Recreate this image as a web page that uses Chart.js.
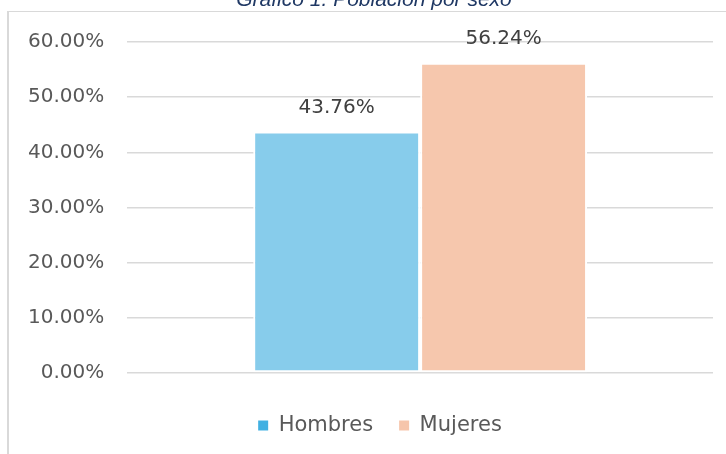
<!DOCTYPE html>
<html>
<head>
<meta charset="utf-8">
<script src="https://cdn.jsdelivr.net/npm/chart.js@4.4.1/dist/chart.umd.min.js"></script>
<style>
	html, body { margin: 0; padding: 0; width: 726px; height: 454px; overflow: hidden; background: #fff; }
	#frame { position: absolute; left: 7px; top: 11px; width: 760px; height: 460px; border-left: 2px solid #d9d9d9; border-top: 1px solid #d9d9d9; }
	#wrap { position: absolute; left: 8px; top: -13px; width: 744px; height: 467px; }
</style>
</head>
<body>
<div id="frame"></div>
<div id="wrap"><canvas id="chart"></canvas></div>
<script>
// ── Data ─────────────────────────────────────────────────────────────────────

const TITLE = 'Gráfico 1. Población por sexo'
const CATEGORIES = ['']
const SERIES_NAMES = ['Hombres', 'Mujeres']
const HOMBRES = [43.76]
const MUJERES = [56.24]
const Y_TICKS = [0, 10, 20, 30, 40, 50, 60]

const BAR_COLORS = ['#87cceb', '#f6c7ad']
const LEGEND_COLORS = ['#41b0e2', '#f6c5ab']

// ── Value labels above bars ─────────────────────────────────────────────────

const valueLabels = {
	id: 'valueLabels',
	afterDatasetsDraw(chart) {
		const c = chart.ctx
		c.save()
		c.font = '20px "DejaVu Sans"'
		c.fillStyle = '#404040'
		c.textAlign = 'center'
		c.textBaseline = 'middle'
		chart.data.datasets.forEach((ds, i) => {
			chart.getDatasetMeta(i).data.forEach((bar, j) => {
				c.fillText(ds.data[j].toFixed(2) + '%', bar.x, bar.y - 24)
			})
		})
		c.restore()
	},
}

// title and legend sit centred on the whole frame, not on the padded box
const blockShift = {
	id: 'blockShift',
	afterLayout(chart) {
		chart.legend.left += 21
		chart.legend.right += 21
		chart.titleBlock.left += 15
		chart.titleBlock.right += 15
	},
}

// ── Chart ───────────────────────────────────────────────────────────────────

const ctx = document.getElementById('chart').getContext('2d')
new Chart(ctx, {
	type: 'bar',
	data: {
		labels: CATEGORIES,
		datasets: [
			{ label: SERIES_NAMES[0], data: HOMBRES, backgroundColor: BAR_COLORS[0] },
			{ label: SERIES_NAMES[1], data: MUJERES, backgroundColor: BAR_COLORS[1] },
		].map(d => ({
			...d,
			borderColor: '#ffffff',
			borderWidth: 2,
			borderSkipped: false,
			categoryPercentage: 0.57,
			barPercentage: 1,
		})),
	},
	options: {
		responsive: true,
		maintainAspectRatio: false,
		animation: false,
		layout: { padding: { left: -3, right: 39, top: 0, bottom: 8 } },
		scales: {
			x: { display: false },
			y: {
				min: 0,
				max: 60,
				afterBuildTicks: axis => { axis.ticks = Y_TICKS.map(v => ({ value: v })) },
				border: { display: false },
				grid: { color: '#d9d9d9', lineWidth: 1.5, drawTicks: false },
				ticks: {
					padding: 23,
					color: '#595959',
					font: { family: 'DejaVu Sans', size: 20 },
					callback: v => v.toFixed(2) + '%',
				},
			},
		},
		plugins: {
			title: {
				display: true,
				text: TITLE,
				color: '#1f3864',
				font: { family: 'Liberation Sans', size: 21, style: 'italic', weight: 'normal' },
				padding: { top: 1, bottom: 28.8 },
			},
			legend: {
				position: 'bottom',
				title: { display: true, text: ' ', font: { size: 5 }, padding: 5 },
				labels: {
					boxWidth: 10,
					boxHeight: 10,
					padding: 26,
					color: '#595959',
					font: { family: 'DejaVu Sans', size: 21 },
					generateLabels: chart => chart.data.datasets.map((ds, i) => ({
						text: ds.label,
						fillStyle: LEGEND_COLORS[i],
						strokeStyle: LEGEND_COLORS[i],
						lineWidth: 0,
						datasetIndex: i,
						fontColor: '#595959',
					})),
				},
			},
			tooltip: { enabled: false },
		},
	},
	plugins: [valueLabels, blockShift],
})
</script>
</body>
</html>
